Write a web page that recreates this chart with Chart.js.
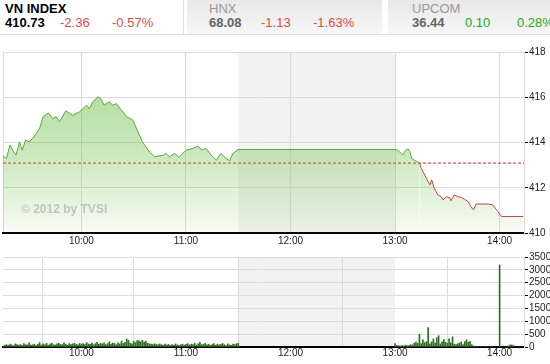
<!DOCTYPE html>
<html>
<head>
<meta charset="utf-8">
<script src="https://cdn.jsdelivr.net/npm/chart.js@4"></script>
<style>
body{margin:0;width:550px;height:364px;overflow:hidden;background:#fff;position:relative;font-family:"Liberation Sans",Arial,sans-serif}
.hd{position:absolute;left:0;top:0;width:550px;height:34px;border-bottom:1px solid #e0e0e0}
.box{position:absolute;top:0;height:34px;background:linear-gradient(#e8e8e8,#f7f7f7)}
.sep{position:absolute;left:183px;top:0;width:1px;height:34px;background:#dcdcdc}
.t{position:absolute;font-size:13px;line-height:15px;white-space:nowrap}
.b{font-weight:bold}
.dn{color:#e04a45}
.up{color:#22a822}
.g1{color:#9a9a9a}
.g2{color:#666;font-weight:bold}
canvas{position:absolute;left:0}
</style>
</head>
<body>
<div class="hd">
  <div class="box" style="left:187px;width:195px"></div>
  <div class="box" style="left:388px;width:162px"></div>
  <div class="sep"></div>
  <div class="t b" style="left:5px;top:1px">VN INDEX</div>
  <div class="t b" style="left:5px;top:15px">410.73</div>
  <div class="t dn" style="left:60px;top:15px">-2.36</div>
  <div class="t dn" style="left:112px;top:15px">-0.57%</div>
  <div class="t g1" style="left:209px;top:1px">HNX</div>
  <div class="t g2" style="left:209px;top:15px">68.08</div>
  <div class="t dn" style="left:261px;top:15px">-1.13</div>
  <div class="t dn" style="left:313px;top:15px">-1.63%</div>
  <div class="t g1" style="left:412px;top:1px">UPCOM</div>
  <div class="t g2" style="left:412px;top:15px">36.44</div>
  <div class="t up" style="left:465px;top:15px">0.10</div>
  <div class="t up" style="left:517px;top:15px">0.28%</div>
</div>
<canvas id="priceChart" width="550" height="210" style="top:40px"></canvas>
<canvas id="volChart" width="550" height="114" style="top:250px"></canvas>
<script>
// thoi gian = phut tinh tu 9:00
const hourTicks = [60, 120, 180, 240, 300];
const hourLabels = ['10:00', '11:00', '12:00', '13:00', '14:00'];
const priceTicks = [410, 412, 414, 416, 418];
const volTicks = [0, 500, 1000, 1500, 2000, 2500, 3000, 3500];
const lunch = [150, 240];
const prevClose = 413.09;

const lineTime = [15,17,19,21,22.5,24.5,26,28,30,32,34,36,38,41,43.5,45.5,47.5,51,55,59,63,64.5,66.5,69.5,71,73,76,78,80,83,86,89.5,92,95,99,102,107,108.5,110.5,113.5,116,120,124,127,129,131.5,134.5,137.5,140,143,145,147,150,
  240,241.5,243.5,244.5,246,247.5,248.5,249.5,251,252,254,255,257,259,260,261,262.5,264.5,266.5,267.5,269.5,271.5,272,274,276,278,280,282,283.5,285,286.5,293.5,296,299,301,313.5];
const lineVal = [413.40,413.30,413.89,413.59,413.44,414.03,413.66,414.11,414.03,414.18,414.40,414.62,415.14,415.31,415.06,415.14,414.92,415.40,415.21,415.36,415.65,415.50,415.80,416.02,415.95,415.65,415.80,415.65,415.72,415.43,415.14,414.99,414.55,414.03,413.59,413.37,413.44,413.52,413.37,413.52,413.34,413.66,413.74,413.84,413.66,413.74,413.44,413.22,413.52,413.30,413.19,413.52,413.69,
  413.69,413.66,413.52,413.44,413.66,413.71,413.59,413.30,413.22,413.18,413.11,412.86,412.57,412.27,412.13,412.35,411.98,411.68,411.61,411.46,411.61,411.54,411.42,411.68,411.61,411.57,411.49,411.38,411.16,411.02,411.28,411.28,411.24,410.95,410.73,410.73];

// khoi luong moi phut: sang tu 9:15, chieu tu 13:00
const volAmStart = 15;
const volAm = [40,70,90,60,110,80,50,120,90,70,100,60,130,90,80,
  160,70,90,110,60,100,170,80,120,90,140,70,110,150,90,
  80,120,140,100,90,160,110,70,130,90,120,150,100,80,140,
  110,130,90,170,120,100,150,90,130,180,100,140,120,160,90,
  130,200,110,150,140,90,160,120,230,140,180,310,260,150,120,
  220,170,250,240,200,260,180,230,150,120,110,90,130,100,80,
  120,90,70,110,80,100,60,90,70,120,80,60,90,110,70,
  100,130,80,110,90,150,70,120,180,90,100,140,80,110,60,
  90,130,70,110,80,100,140,90,60,120,80,70,110,90,130,140];
const volPmStart = 240;
const volPm = [130,60,50,40,60,40,70,50,60,90,80,150,190,140,500,
  130,280,170,210,760,120,200,310,150,360,440,120,200,290,180,
  150,320,160,400,110,90,130,160,200,90,210,280,180,220,90,
  40,30,30,0,20,0,0,30,0,0,20,0,0,0,0,
  3190,0,0,0,0,40,80,80,60,0,0,0,0,0];

const font = { family: 'Liberation Sans', size: 10 };
const green = '#5aa83c', red = '#c8454a';

// nen xam gio nghi trua
const lunchBand = {
  id: 'lunchBand',
  beforeDraw(c) {
    const { ctx, chartArea: a, scales: { x } } = c;
    const x0 = x.getPixelForValue(lunch[0]), x1 = x.getPixelForValue(lunch[1]);
    ctx.save();
    ctx.fillStyle = '#f2f2f2';
    ctx.fillRect(x0, a.top, x1 - x0, a.bottom - a.top);
    ctx.restore();
  }
};

const watermark = {
  id: 'watermark',
  afterDatasetsDraw(c) {
    const { ctx, chartArea: a } = c;
    ctx.save();
    ctx.font = 'bold 12px "Liberation Sans"';
    ctx.fillStyle = 'rgba(140,140,140,0.45)';
    ctx.fillText('\u00a9 2012 by TVSI', a.left + 18, a.bottom - 20);
    ctx.restore();
  }
};

function timeAxis(pad) {
  return {
    type: 'linear', min: 15, max: 314, offset: false,
    afterBuildTicks: s => { s.ticks = [15, ...hourTicks].map(v => ({ value: v })); },
    afterFit: s => { s.height = 17; },
    grid: { color: '#dcdcdc', drawTicks: false },
    border: { color: '#000', width: 2 },
    ticks: {
      padding: pad, color: '#222', font, autoSkip: false, maxRotation: 0,
      callback: v => { const i = hourTicks.indexOf(v); return i < 0 ? '' : hourLabels[i]; }
    }
  };
}

function valueAxis(min, max, list) {
  return {
    position: 'right', min, max,
    afterBuildTicks: s => { s.ticks = list.map(v => ({ value: v })); },
    afterFit: s => { s.width = 26; },
    grid: { color: '#dcdcdc', tickColor: '#000', tickLength: 4 },
    border: { color: '#dcdcdc' },
    ticks: { padding: 1, color: '#222', font, autoSkip: false, callback: v => v }
  };
}

new Chart(document.getElementById('priceChart'), {
  type: 'line',
  data: {
    datasets: [
      {
        data: lineTime.map((t, i) => ({ x: t, y: lineVal[i] })),
        borderWidth: 1, pointRadius: 0, tension: 0, fill: 'start',
        borderColor: green,
        segment: { borderColor: s => s.p1.parsed.y < prevClose ? red : green },
        backgroundColor: c => {
          const a = c.chart.chartArea;
          if (!a) return 'rgba(0,0,0,0)';
          const g = c.chart.ctx.createLinearGradient(0, a.top, 0, a.bottom);
          g.addColorStop(0, 'rgba(110,190,70,0.62)');
          g.addColorStop(0.6, 'rgba(110,190,70,0.33)');
          g.addColorStop(1, 'rgba(110,190,70,0.05)');
          return g;
        }
      },
      {
        data: [{ x: 15, y: prevClose }, { x: 314, y: prevClose }],
        borderColor: '#e02020', borderWidth: 1, borderDash: [3, 2], pointRadius: 0, fill: false
      }
    ]
  },
  options: {
    responsive: false, animation: false,
    layout: { padding: { left: 3, top: 12, right: 0, bottom: 0 } },
    plugins: { legend: { display: false }, tooltip: { enabled: false } },
    scales: { x: timeAxis(2), y: valueAxis(410, 418, priceTicks) }
  },
  plugins: [lunchBand, watermark]
});

const volData = [
  ...volAm.map((v, i) => ({ x: volAmStart + i, y: v })),
  ...volPm.map((v, i) => ({ x: volPmStart + i, y: v }))
];

new Chart(document.getElementById('volChart'), {
  type: 'bar',
  data: { datasets: [{ data: volData, backgroundColor: '#2f6f22', barThickness: 1 }] },
  options: {
    responsive: false, animation: false,
    layout: { padding: { left: 3, top: 7, right: 0, bottom: 0 } },
    plugins: { legend: { display: false }, tooltip: { enabled: false } },
    scales: { x: timeAxis(0), y: valueAxis(0, 3500, volTicks) }
  },
  plugins: [lunchBand]
});
</script>
</body>
</html>
